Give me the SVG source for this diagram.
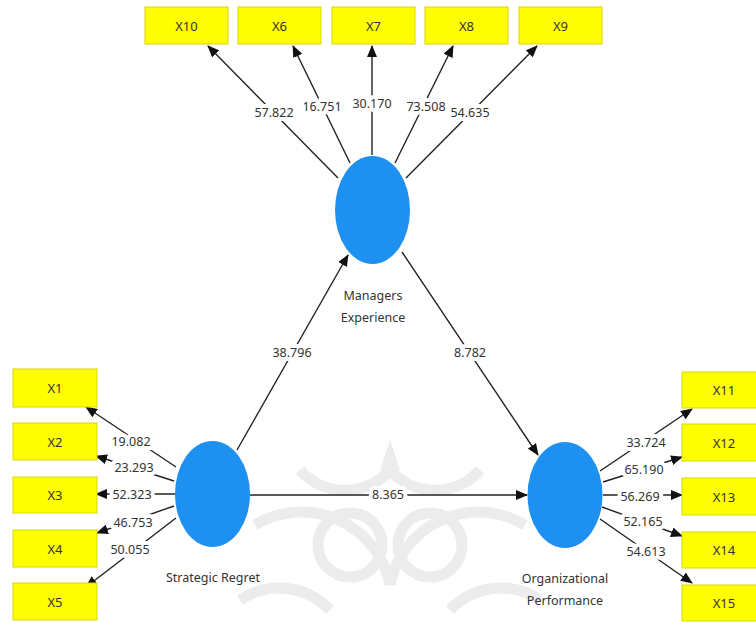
<svg xmlns="http://www.w3.org/2000/svg" width="756" height="623" viewBox="0 0 756 623">
<defs>
<marker id="ah" markerUnits="userSpaceOnUse" markerWidth="12" markerHeight="10" refX="11" refY="5" orient="auto">
<path d="M0,0 L12,5 L0,10 Z" fill="#111"/>
</marker>
<style>
.box{fill:#ffff00;stroke:#d8d800;stroke-width:1}
.bt{font-family:"Noto Sans","Open Sans",sans-serif;font-size:13px;fill:#333;text-anchor:middle;dominant-baseline:central}
.lv{fill:#1e90f0}
.lt{font-family:"Noto Sans","Open Sans",sans-serif;font-size:12.5px;fill:#333;text-anchor:middle}
.ea{stroke:#222;stroke-width:1.4;fill:none;marker-end:url(#ah)}
.nl{font-family:"Noto Sans","Open Sans",sans-serif;font-size:12.5px;fill:#333;text-anchor:middle;dominant-baseline:central;stroke:#fff;stroke-width:8;stroke-linejoin:round;paint-order:stroke}
.wm{fill:none;stroke:#ececec;stroke-width:11}
</style>
</defs>
<rect width="756" height="623" fill="#fff"/>
<g id="watermark">
<path class="wm" d="M300,470 A60,60 0 0 0 390,470"/>
<path class="wm" d="M390,470 A60,60 0 0 0 480,470"/>
<circle class="wm" cx="350" cy="545" r="32"/>
<circle class="wm" cx="430" cy="545" r="32"/>
<path class="wm" d="M255,525 A90,90 0 0 1 390,585"/>
<path class="wm" d="M525,525 A90,90 0 0 0 390,585"/>
<path class="wm" d="M240,600 A70,70 0 0 1 330,610"/>
<path class="wm" d="M540,600 A70,70 0 0 0 450,610"/>
<path d="M390,440 L380,470 L400,470 Z" fill="#ececec"/>
</g>
<g id="connectors">
<line class="ea" x1="338" y1="178" x2="208" y2="46"/>
<line class="ea" x1="350" y1="163" x2="293" y2="46"/>
<line class="ea" x1="372" y1="155" x2="372" y2="46"/>
<line class="ea" x1="395" y1="163" x2="453" y2="46"/>
<line class="ea" x1="406" y1="178" x2="537" y2="46"/>
<line class="ea" x1="176" y1="467" x2="86" y2="407"/>
<line class="ea" x1="174" y1="481" x2="96" y2="456"/>
<line class="ea" x1="175" y1="494" x2="96" y2="494"/>
<line class="ea" x1="174" y1="506" x2="97" y2="533"/>
<line class="ea" x1="176" y1="518" x2="86" y2="587"/>
<line class="ea" x1="600" y1="471" x2="692" y2="409"/>
<line class="ea" x1="603" y1="482" x2="682" y2="457"/>
<line class="ea" x1="603" y1="495" x2="682" y2="495"/>
<line class="ea" x1="602" y1="507" x2="682" y2="536"/>
<line class="ea" x1="600" y1="519" x2="692" y2="583"/>
<line class="ea" x1="237" y1="450" x2="348" y2="255"/>
<line class="ea" x1="402" y1="252" x2="538" y2="455"/>
<line class="ea" x1="250" y1="495" x2="527" y2="495"/>
<text class="nl" x="274" y="112">57.822</text>
<text class="nl" x="322" y="106">16.751</text>
<text class="nl" x="372" y="103">30.170</text>
<text class="nl" x="426" y="106">73.508</text>
<text class="nl" x="470" y="112">54.635</text>
<text class="nl" x="131" y="441">19.082</text>
<text class="nl" x="134" y="467">23.293</text>
<text class="nl" x="132" y="494">52.323</text>
<text class="nl" x="133" y="522">46.753</text>
<text class="nl" x="130" y="549">50.055</text>
<text class="nl" x="646" y="442">33.724</text>
<text class="nl" x="644" y="469">65.190</text>
<text class="nl" x="640" y="496">56.269</text>
<text class="nl" x="643" y="521">52.165</text>
<text class="nl" x="646" y="551">54.613</text>
<text class="nl" x="292" y="352">38.796</text>
<text class="nl" x="470" y="352">8.782</text>
<text class="nl" x="388" y="494">8.365</text>
</g>
<g id="X10"><rect class="box" x="145" y="7" width="83" height="37"/><text class="bt" x="186.5" y="25.5">X10</text></g>
<g id="X6"><rect class="box" x="238" y="7" width="83" height="37"/><text class="bt" x="279.5" y="25.5">X6</text></g>
<g id="X7"><rect class="box" x="332" y="7" width="83" height="37"/><text class="bt" x="373.5" y="25.5">X7</text></g>
<g id="X8"><rect class="box" x="425" y="7" width="83" height="37"/><text class="bt" x="466.5" y="25.5">X8</text></g>
<g id="X9"><rect class="box" x="519" y="7" width="83" height="37"/><text class="bt" x="560.5" y="25.5">X9</text></g>
<g id="X1"><rect class="box" x="13" y="369" width="84" height="38"/><text class="bt" x="55" y="388">X1</text></g>
<g id="X2"><rect class="box" x="13" y="423" width="84" height="37"/><text class="bt" x="55" y="441.5">X2</text></g>
<g id="X3"><rect class="box" x="13" y="477" width="84" height="36"/><text class="bt" x="55" y="495">X3</text></g>
<g id="X4"><rect class="box" x="13" y="530" width="84" height="37"/><text class="bt" x="55" y="548.5">X4</text></g>
<g id="X5"><rect class="box" x="13" y="583" width="84" height="37"/><text class="bt" x="55" y="601.5">X5</text></g>
<g id="X11"><rect class="box" x="682" y="372" width="84" height="36"/><text class="bt" x="724" y="390">X11</text></g>
<g id="X12"><rect class="box" x="682" y="424" width="84" height="37"/><text class="bt" x="724" y="442.5">X12</text></g>
<g id="X13"><rect class="box" x="682" y="478" width="84" height="37"/><text class="bt" x="724" y="496.5">X13</text></g>
<g id="X14"><rect class="box" x="682" y="532" width="84" height="36"/><text class="bt" x="724" y="550">X14</text></g>
<g id="X15"><rect class="box" x="682" y="585" width="84" height="36"/><text class="bt" x="724" y="603">X15</text></g>
<g id="ManagersExperience"><ellipse class="lv" cx="372.5" cy="210" rx="37.5" ry="54"/><text class="lt" x="373" y="300">Managers</text><text class="lt" x="373" y="322">Experience</text></g>
<g id="StrategicRegret"><ellipse class="lv" cx="212.5" cy="494" rx="37.5" ry="53"/><text class="lt" x="213" y="582">Strategic Regret</text></g>
<g id="OrganizationalPerformance"><ellipse class="lv" cx="565" cy="495" rx="37.5" ry="53"/><text class="lt" x="565" y="583">Organizational</text><text class="lt" x="565" y="605">Performance</text></g>
</svg>
